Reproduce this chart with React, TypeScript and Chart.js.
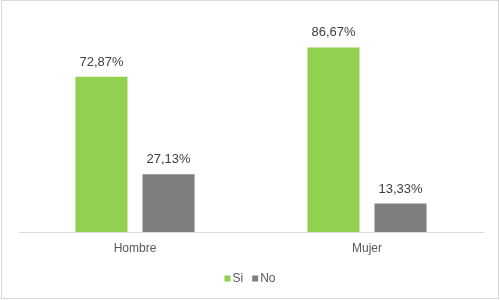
import React, { useEffect, useRef } from "react";
import { Chart, registerables } from "chart.js";

Chart.register(...registerables);

const categories = ["Hombre", "Mujer"];
const seriesNames = ["Si", "No"];
const siValues = [72.87, 86.67];
const noValues = [27.13, 13.33];
const seriesColors = ["#92D050", "#7F7F7F"];

const fmt = (v: number) => v.toFixed(2).replace(".", ",") + "%";

const FONT = "'Liberation Sans', Arial, sans-serif";

const labelsPlugin = {
  id: "valueLabels",
  afterDatasetsDraw(chart: any) {
    const ctx = chart.ctx;
    ctx.save();
    ctx.font = `13px ${FONT}`;
    ctx.fillStyle = "#404040";
    ctx.textAlign = "center";
    ctx.textBaseline = "alphabetic";
    chart.data.datasets.forEach((ds: any, di: number) => {
      const meta = chart.getDatasetMeta(di);
      meta.data.forEach((el: any, i: number) => {
        ctx.fillText(fmt(ds.data[i]), el.x, el.y - 11);
      });
    });
    ctx.restore();
  },
};

const frameAndLegend = {
  id: "frameAndLegend",
  afterDraw(chart: any) {
    const ctx = chart.ctx;
    ctx.save();
    ctx.strokeStyle = "#D9D9D9";
    ctx.lineWidth = 1;
    ctx.strokeRect(1.5, 0.5, 497, 298);
    // legend
    ctx.font = `12px ${FONT}`;
    ctx.textBaseline = "middle";
    ctx.textAlign = "left";
    const box = 6;
    const gapBoxText = 2;
    const gapItems = 9;
    const items = chart.data.datasets.map((ds: any) => ({
      text: ds.label,
      color: ds.backgroundColor,
      w: box + gapBoxText + ctx.measureText(ds.label).width,
    }));
    const total = items.reduce((s: number, it: any) => s + it.w, 0) + gapItems * (items.length - 1);
    let x = chart.width / 2 - total / 2;
    const cy = 278.5;
    items.forEach((it: any) => {
      ctx.fillStyle = it.color;
      ctx.fillRect(x, cy - box / 2, box, box);
      ctx.fillStyle = "#595959";
      ctx.fillText(it.text, x + box + gapBoxText, cy);
      x += it.w + gapItems;
    });
    ctx.restore();
  },
};

export default function App() {
  const ref = useRef<HTMLCanvasElement>(null);
  useEffect(() => {
    if (!ref.current) return;
    const chart = new Chart(ref.current, {
      type: "bar",
      data: {
        labels: categories,
        datasets: [
          { label: seriesNames[0], data: siValues, backgroundColor: seriesColors[0] },
          { label: seriesNames[1], data: noValues, backgroundColor: seriesColors[1] },
        ],
      },
      options: {
        animation: false,
        responsive: false,
        layout: { padding: { left: 19, right: 17, top: 19, bottom: 0 } },
        datasets: {
          bar: { categoryPercentage: 0.578, barPercentage: 0.776 },
        },
        plugins: {
          legend: { display: false },
          tooltip: { enabled: false },
        },
        scales: {
          x: {
            grid: { display: false, drawTicks: false },
            border: { display: true, color: "#D9D9D9", width: 1 },
            ticks: { color: "#595959", font: { family: FONT, size: 12 }, padding: 9 },
            afterFit: (s: any) => {
              s.height = 68;
            },
          },
          y: { display: false, min: 0, max: 100 },
        },
      },
      plugins: [labelsPlugin, frameAndLegend],
    });
    return () => chart.destroy();
  }, []);
  return (
    <div style={{ position: "fixed", left: 0, top: 0, width: 500, height: 300, background: "#fff" }}>
      <canvas ref={ref} width={500} height={300} style={{ width: 500, height: 300 }} />
    </div>
  );
}
